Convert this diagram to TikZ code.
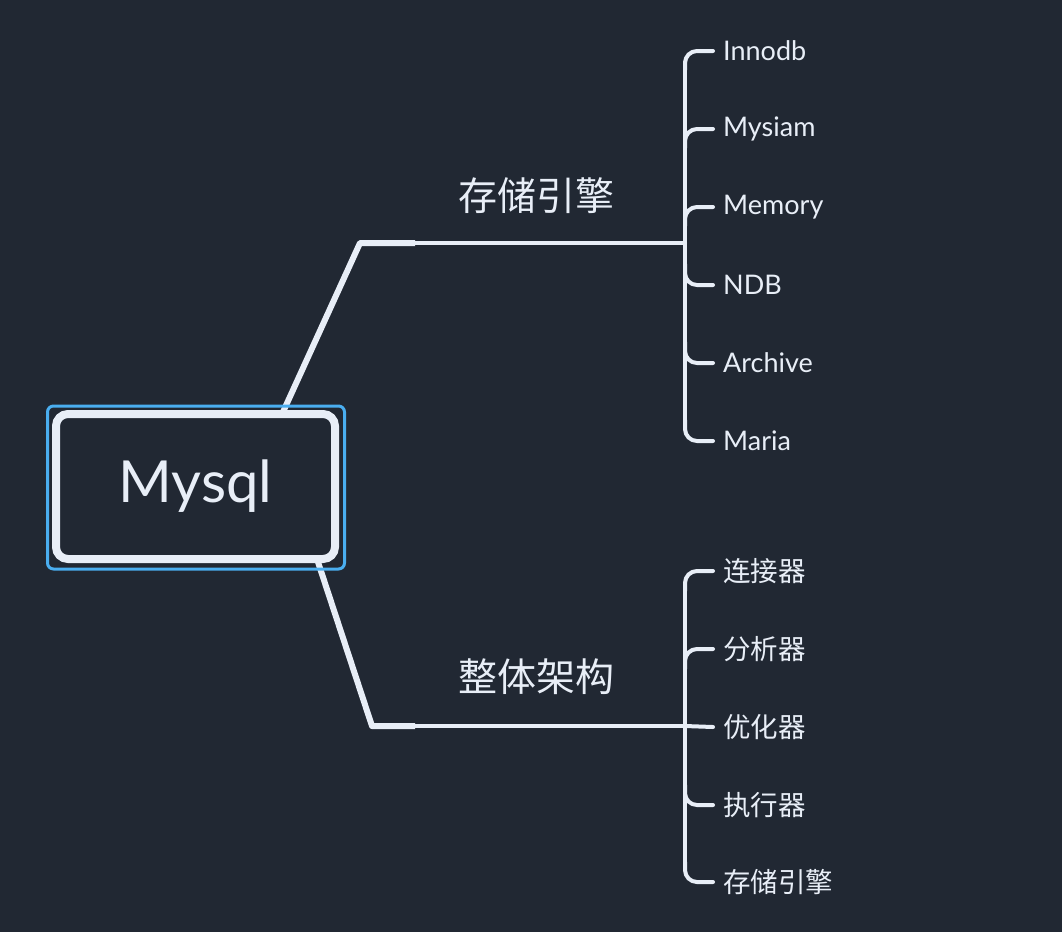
\documentclass[tikz,border=0pt]{standalone}
\usepackage{fontspec}
\setmainfont{Lato}
\newfontfamily\cjk{Noto Sans CJK SC}
\definecolor{bg}{HTML}{212833}
\definecolor{ln}{HTML}{E8EEF7}
\definecolor{sel}{HTML}{4AAEF0}
\begin{document}
\begin{tikzpicture}[x=1pt,y=-1pt,
  thick branch/.style={draw=ln, line width=6pt, line join=round},
  thin branch/.style={draw=ln, line width=4pt, line cap=round},
  stub/.style={draw=ln, line width=4pt, line cap=round, rounded corners=12pt},
  child/.style={anchor=west, text=ln, inner sep=0pt, font=\fontsize{27}{32}\selectfont},
  cchild/.style={anchor=west, text=ln, inner sep=0pt, font=\cjk\fontsize{27.5}{32}\selectfont},
  blabel/.style={text=ln, inner sep=0pt, font=\cjk\fontsize{39}{44}\selectfont}]
\fill[bg] (0,0) rectangle (1062,932);
\useasboundingbox (0,0) rectangle (1062,932);
% branch coordinates
\coordinate (u0) at (283,412);
\coordinate (u1) at (360,243);
\coordinate (u2) at (415,243);
\coordinate (uj) at (685,243);
\coordinate (l0) at (318,562);
\coordinate (l1) at (372,726);
\coordinate (l2) at (415,726);
\coordinate (lj) at (685,726);
\draw[thick branch] (u0) -- (u1) -- (u2);
\draw[thin branch] (u2) -- (uj);
\draw[thick branch] (l0) -- (l1) -- (l2);
\draw[thin branch] (l2) -- (lj);
% root
\node[draw=sel, line width=3pt, rounded corners=6pt, minimum width=297pt, minimum height=163pt] (selbox) at (196,487.5) {};
\node[draw=ln, fill=bg, line width=8pt, rounded corners=12pt, minimum width=279pt, minimum height=145pt, text=ln, font=\fontsize{58}{64}\selectfont] (root) at (195.5,486.5) {Mysql};
% branch labels
\node[blabel] (storage) at (536,196) {存储引擎};
\node[blabel] (arch) at (536,677) {整体架构};
% upper children
\node[child] (c1) at (723,51) {Innodb};
\node[child] (c2) at (723,129) {Mysiam};
\node[child] (c3) at (723,207) {Memory};
\node[child] (c4) at (723,285) {NDB};
\node[child] (c5) at (723,363) {Archive};
\node[child] (c6) at (723,441) {Maria};
\coordinate (ut) at (685,62);
\coordinate (ub) at (685,429);
\draw[thin branch] (ut) -- (ub);
\foreach \n/\y in {c1/50,c2/128,c3/206}{
  \draw[stub] (685,\y+20) |- ([xshift=-10pt]\n.west);
}
\foreach \n/\y in {c4/284,c5/362,c6/440}{
  \draw[stub] (685,\y-20) |- ([xshift=-10pt]\n.west);
}
% lower children
\node[cchild] (d1) at (723,571) {连接器};
\node[cchild] (d2) at (723,649) {分析器};
\node[cchild] (d3) at (723,727) {优化器};
\node[cchild] (d4) at (723,805) {执行器};
\node[cchild] (d5) at (723,882) {存储引擎};
\coordinate (lt) at (685,583);
\coordinate (lb) at (685,870);
\draw[thin branch] (lt) -- (lb);
\foreach \n/\y in {d1/571,d2/649}{
  \draw[stub] (685,\y+20) |- ([xshift=-10pt]\n.west);
}
\draw[thin branch] (lj) -- ([xshift=-10pt]d3.west);
\foreach \n/\y in {d4/805,d5/882}{
  \draw[stub] (685,\y-20) |- ([xshift=-10pt]\n.west);
}
\end{tikzpicture}
\end{document}
